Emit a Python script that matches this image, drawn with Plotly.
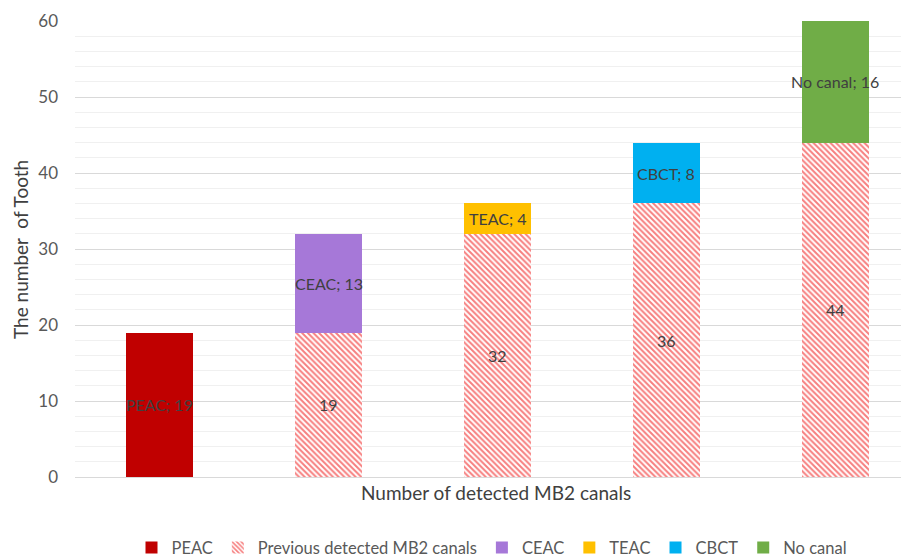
import plotly.graph_objects as go

categories = ["1", "2", "3", "4", "5"]
peac = [19, None, None, None, None]
previous = [None, 19, 32, 36, 44]
ceac = [None, 13, None, None, None]
teac = [None, None, 4, None, None]
cbct = [None, None, None, 8, None]
no_canal = [None, None, None, None, 16]

series = [
    ("PEAC", peac, "#C00000", None),
    ("Previous detected MB2 canals", previous, "#FFFFFF", "hatch"),
    ("CEAC", ceac, "#A678D8", None),
    ("TEAC", teac, "#FFC000", None),
    ("CBCT", cbct, "#00B0F0", None),
    ("No canal", no_canal, "#70AD47", None),
]

FONT = "Lato, Open Sans, sans-serif"
fig = go.Figure()
for name, vals, color, pat in series:
    if pat:
        marker = dict(color="#FFFFFF",
                      pattern=dict(shape="\\", fgcolor="#EE0000", bgcolor="#FFFFFF",
                                   size=4, solidity=0.5))
    else:
        marker = dict(color=color)
    fig.add_trace(go.Bar(x=categories, y=vals, name=name, width=0.4,
                         marker=marker, marker_line_width=0, hoverinfo="skip"))

# data labels at segment centres
annotations = []
base = [0] * len(categories)
for name, vals, color, pat in series:
    for i, v in enumerate(vals):
        if v is None:
            continue
        mid = base[i] + v / 2
        label = f"{v}" if pat else f"{name}; {v}"
        annotations.append(dict(x=i, y=mid, xref="x", yref="y", text=label,
                                showarrow=False, font=dict(family=FONT, size=16, color="#404040")))
        base[i] += v

annotations.append(dict(x=0.505, y=-0.035, xref="paper", yref="paper", yanchor="middle",
                        text="Number of detected MB2 canals", showarrow=False,
                        font=dict(family=FONT, size=19, color="#404040")))
annotations.append(dict(x=-0.066, y=0.5, xref="paper", yref="paper", xanchor="center",
                        text="The number  of Tooth", textangle=-90, showarrow=False,
                        font=dict(family=FONT, size=19, color="#404040")))

fig.update_layout(
    width=901, height=551,
    barmode="stack",
    plot_bgcolor="white", paper_bgcolor="white",
    margin=dict(l=67, r=0, t=13, b=82, autoexpand=False),
    font=dict(family=FONT, size=15, color="#595959"),
    annotations=annotations,
    showlegend=True,
    legend=dict(orientation="h", x=0.5, xanchor="center", y=-0.155, yanchor="middle",
                font=dict(family=FONT, size=16.5, color="#595959"), itemwidth=30,
                traceorder="normal"),
    xaxis=dict(type="category", range=[-0.5, 4.435], showticklabels=False, automargin=False,
               showline=True, linecolor="#D9D9D9", linewidth=1, showgrid=False, zeroline=False),
    yaxis=dict(range=[0, 60], dtick=10, showgrid=True, gridcolor="#D9D9D9", gridwidth=1,
               minor=dict(dtick=2, showgrid=True, gridcolor="#F0F0F0", gridwidth=1),
               zeroline=False, ticklabelstandoff=16, automargin=False,
               tickfont=dict(family=FONT, size=17, color="#595959")),
)

fig.write_html("out.html")
